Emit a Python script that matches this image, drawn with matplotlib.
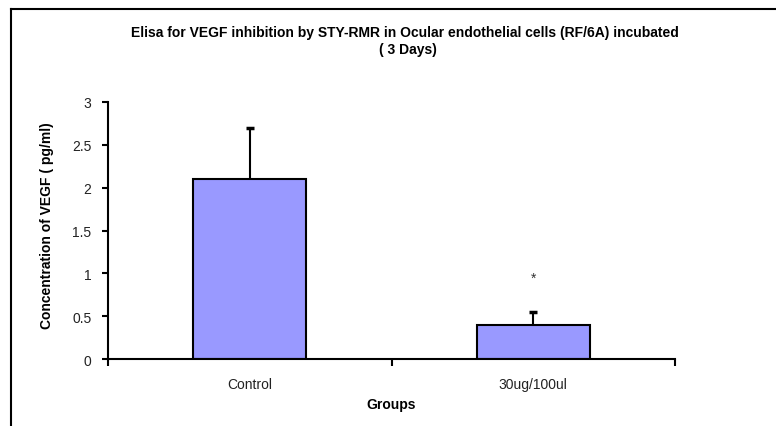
import matplotlib
matplotlib.use("Agg")
import matplotlib.pyplot as plt
from matplotlib.lines import Line2D

plt.rcParams['font.family'] = ['Liberation Sans', 'DejaVu Sans']

groups = ["Control", "30ug/100ul"]
means = [2.1, 0.4]
errors = [0.6, 0.15]
star_y = 0.95

W, H = 776, 427
fig = plt.figure(figsize=(W / 100, H / 100), dpi=100)
ax = fig.add_axes([108 / W, 1 - 360 / H, (675 - 108) / W, (360 - 103) / H])

x = list(range(len(groups)))
ax.bar(x, means, width=0.4, color="#9999FF", edgecolor="black", linewidth=1.5, zorder=2)
eb = ax.errorbar(x, means, yerr=[[0] * len(errors), errors], fmt="none", ecolor="black",
                 elinewidth=1.5, capsize=3, capthick=2.5, zorder=3)
# only the upper cap is shown
eb[1][0].set_visible(False)
ax.text(1, star_y, "*", ha="center", va="center", fontsize=10, color="#333333")

ax.set_xlim(-0.5, 1.5)
ax.set_ylim(0, 3)
ax.set_yticks([0, 0.5, 1, 1.5, 2, 2.5, 3])
ax.set_yticklabels(["0", "0.5", "1", "1.5", "2", "2.5", "3"])
ax.set_xticks([-0.5, 0.5, 1.5])
ax.set_xticklabels([])
ax.set_xticks(x, minor=True)
ax.set_xticklabels(groups, minor=True)
ax.tick_params(axis="x", which="minor", length=0, pad=13, labelsize=10, labelcolor="#222222")
ax.tick_params(axis="x", which="major", direction="out", length=5, width=1.5)
ax.tick_params(axis="y", direction="out", length=4, width=1.5, labelsize=10, labelcolor="#222222", pad=8)

for s in ["top", "right"]:
    ax.spines[s].set_visible(False)
for s in ["left", "bottom"]:
    ax.spines[s].set_linewidth(1.5)

ax.set_ylabel("Concentration of VEGF ( pg/ml)", fontsize=10, fontweight="bold")
ax.yaxis.set_label_coords(-0.096, 0.523)
ax.set_xlabel("Groups", fontsize=10, fontweight="bold", labelpad=4)

fig.text(405 / W, 1 - 33 / H, "Elisa for VEGF inhibition by STY-RMR in Ocular endothelial cells (RF/6A) incubated",
         ha="center", va="center", fontsize=10, fontweight="bold")
fig.text(408 / W, 1 - 50 / H, "( 3 Days)", ha="center", va="center", fontsize=10, fontweight="bold")

# outer chart frame
fig.add_artist(Line2D([11 / W, 11 / W], [0, 1 - 10 / H], color="black", linewidth=1.5))
fig.add_artist(Line2D([11 / W, 1], [1 - 10 / H, 1 - 10 / H], color="black", linewidth=1.5))

fig.savefig("out.png", dpi=100)
